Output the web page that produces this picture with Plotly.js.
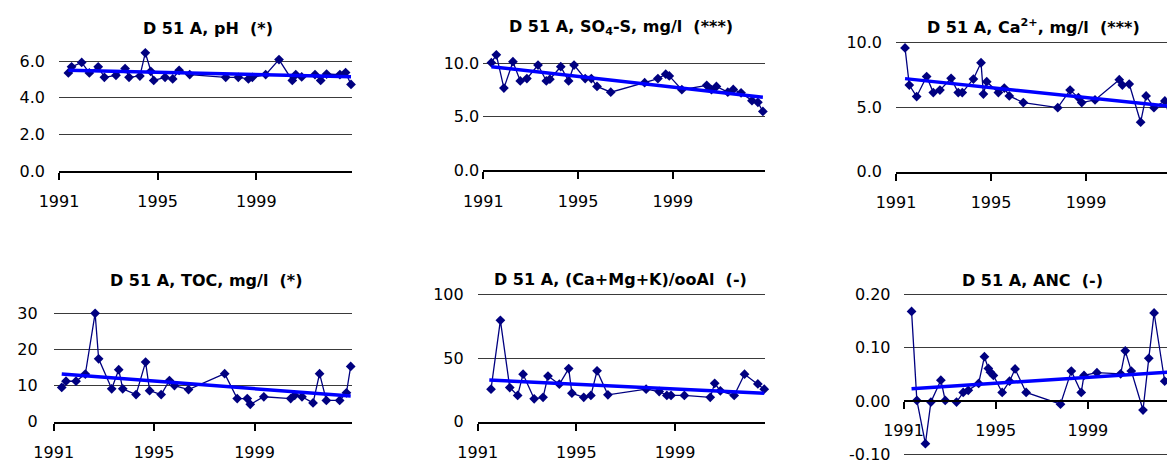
<!DOCTYPE html>
<html>
<head>
<meta charset="utf-8">
<script src="https://cdn.plot.ly/plotly-3.0.1.min.js"></script>
<style>html,body{margin:0;padding:0;background:#fff;}#chart{width:1167px;height:461px;}</style>
</head>
<body>
<div id="chart"></div>
<script>
// ---------------- DATA ----------------
const yearTicks = [1991, 1995, 1999];
const yearTickText = ["1991", "1995", "1999"];

const phYear = [1991.38,1991.51,1991.92,1992.23,1992.59,1992.84,1993.31,1993.68,1993.84,1994.28,1994.50,1994.72,1994.84,1995.30,1995.61,1995.87,1996.30,1997.76,1998.27,1998.68,1998.84,1999.38,1999.92,2000.46,2000.60,2000.84,2001.38,2001.61,2001.85,2002.39,2002.62,2002.84];
const phValue = [5.36,5.69,5.93,5.36,5.69,5.12,5.23,5.60,5.12,5.19,6.46,5.45,4.95,5.12,5.03,5.50,5.27,5.12,5.12,5.03,5.12,5.27,6.09,4.95,5.27,5.14,5.27,4.95,5.30,5.27,5.38,4.73];
const phTrendYear = [1991.38, 2002.84];
const phTrendValue = [5.50, 5.15];
const phTicks = [0, 2, 4, 6];
const phTickText = ["0.0", "2.0", "4.0", "6.0"];

const so4Year = [1991.34,1991.55,1991.87,1992.25,1992.56,1992.84,1993.31,1993.66,1993.81,1994.27,1994.60,1994.83,1995.30,1995.56,1995.80,1996.38,1997.81,1998.37,1998.70,1998.85,1999.38,2000.43,2000.63,2000.84,2001.32,2001.55,2001.88,2002.34,2002.59,2002.80];
const so4Value = [10.06,10.79,7.68,10.15,8.35,8.57,9.84,8.35,8.51,9.68,8.35,9.84,8.57,8.57,7.84,7.30,8.19,8.57,8.98,8.82,7.53,7.94,7.53,7.84,7.30,7.56,7.24,6.51,6.35,5.50];
const so4TrendYear = [1991.34, 2002.80];
const so4TrendValue = [9.68, 6.83];
const so4Ticks = [0, 5, 10];
const so4TickText = ["0.0", "5.0", "10.0"];

const caYear = [1991.38,1991.56,1991.87,1992.29,1992.57,1992.85,1993.32,1993.62,1993.79,1994.26,1994.58,1994.68,1994.82,1995.31,1995.56,1995.77,1996.36,1997.81,1998.33,1998.68,1998.82,1999.38,2000.40,2000.53,2000.82,2001.30,2001.53,2001.86,2002.32,2002.55,2002.84];
const caValue = [9.58,6.70,5.81,7.36,6.12,6.31,7.22,6.12,6.12,7.17,8.43,6.00,6.96,6.12,6.47,5.86,5.34,4.95,6.31,5.73,5.34,5.55,7.12,6.70,6.78,3.82,5.86,4.95,5.47,4.10,5.00];
const caTrendYear = [1991.38, 2002.84];
const caTrendValue = [7.20, 5.00];
const caTicks = [0, 5, 10];
const caTickText = ["0.0", "5.0", "10.0"];

const tocYear = [1991.32,1991.49,1991.89,1992.26,1992.65,1992.79,1993.31,1993.59,1993.75,1994.28,1994.66,1994.82,1995.28,1995.61,1995.81,1996.37,1997.81,1998.31,1998.71,1998.83,1999.37,2000.44,2000.60,2000.89,2001.33,2001.59,2001.86,2002.39,2002.66,2002.83];
const tocValue = [9.5,11.2,11.2,13.2,30.0,17.4,9.1,14.4,9.1,7.5,16.5,8.6,7.5,11.4,10.0,8.9,13.3,6.4,6.4,4.8,6.9,6.4,7.3,6.9,5.2,13.3,5.9,5.9,8.0,15.3];
const tocTrendYear = [1991.32, 2002.83];
const tocTrendValue = [13.2, 7.1];
const tocTicks = [0, 10, 20, 30];
const tocTickText = ["0", "10", "20", "30"];

const ratioYear = [1991.54,1991.92,1992.30,1992.62,1992.84,1993.29,1993.65,1993.85,1994.31,1994.69,1994.82,1995.30,1995.59,1995.84,1996.28,1997.83,1998.36,1998.67,1998.84,1999.38,2000.43,2000.61,2000.84,2001.40,2001.82,2002.36,2002.62];
const ratioValue = [25.5,79.6,26.8,20.6,37.3,18.0,19.1,35.8,29.4,41.7,22.4,19.1,20.6,39.9,21.1,25.5,23.7,20.6,20.6,20.6,19.1,30.1,24.2,20.6,37.3,29.6,25.5];
const ratioTrendYear = [1991.47, 2002.62];
const ratioTrendValue = [32.7, 22.4];
const ratioTicks = [0, 50, 100];
const ratioTickText = ["0", "50", "100"];

const ancYear = [1991.35,1991.58,1991.95,1992.19,1992.62,1992.81,1993.30,1993.59,1993.81,1994.26,1994.51,1994.68,1994.77,1994.90,1995.28,1995.60,1995.84,1996.32,1997.81,1998.28,1998.71,1998.83,1999.39,2000.42,2000.62,2000.88,2001.39,2001.64,2001.87,2002.33,2002.60,2002.84];
const ancValue = [0.168,0.001,-0.080,-0.002,0.039,0.001,-0.002,0.016,0.020,0.033,0.083,0.061,0.054,0.048,0.016,0.037,0.060,0.016,-0.006,0.056,0.016,0.048,0.053,0.051,0.094,0.056,-0.017,0.080,0.165,0.037,0.050,0.030];
const ancTrendYear = [1991.35, 2002.84];
const ancTrendValue = [0.023, 0.055];
const ancTicks = [-0.1, 0, 0.1, 0.2];
const ancTickText = ["-0.10", "0.00", "0.10", "0.20"];

const titles = [
  "D 51 A, pH\u00A0 (*)",
  "D 51 A, SO<sub>4</sub>-S, mg/l\u00A0 (***)",
  "D 51 A, Ca<sup>2+</sup>, mg/l\u00A0 (***)",
  "D 51 A, TOC, mg/l\u00A0 (*)",
  "D 51 A, (Ca+Mg+K)/ooAl\u00A0 (-)",
  "D 51 A, ANC\u00A0 (-)"
];

// ---------------- LAYOUT GEOMETRY ----------------
const W = 1167, H = 461;
const geo = [
  {xl:59,    xr:352,  y0:171,   ppu:18.3,  yr:[0,7],           xend:2002.88, tx:207.5, ty:28.5, standoff:13},
  {xl:483.3, xr:765,  y0:170.3, ppu:10.7,  yr:[0,11.5],        xend:2002.89, tx:620.8, ty:27.5, standoff:3},
  {xl:896,   xr:1167, y0:171.5, ppu:12.9,  yr:[0,10.2],        xend:2002.41, tx:1033.3,ty:27,   standoff:13},
  {xl:53.7,  xr:351.7,y0:421.7, ppu:3.613, yr:[0,31],          xend:2002.87, tx:206.3, ty:280.5,standoff:15},
  {xl:477.7, xr:765,  y0:421.7, ppu:1.274, yr:[0,102],         xend:2002.65, tx:620,   ty:279.5,standoff:13},
  {xl:903.5, xr:1167, y0:456.97,ppu:533.3, yr:[-0.105,0.205],  xend:2002.43, tx:1032.5,ty:280,  standoff:12}
];

const series = [
  [phYear, phValue, phTrendYear, phTrendValue, phTicks, phTickText],
  [so4Year, so4Value, so4TrendYear, so4TrendValue, so4Ticks, so4TickText],
  [caYear, caValue, caTrendYear, caTrendValue, caTicks, caTickText],
  [tocYear, tocValue, tocTrendYear, tocTrendValue, tocTicks, tocTickText],
  [ratioYear, ratioValue, ratioTrendYear, ratioTrendValue, ratioTicks, ratioTickText],
  [ancYear, ancValue, ancTrendYear, ancTrendValue, ancTicks, ancTickText]
];

const tickFont = {family: "DejaVu Sans, Arial, sans-serif", size: 16, color: "#000"};
const titleFont = {family: "DejaVu Sans, Arial, sans-serif", size: 16, color: "#000"};

const data = [];
const layout = {
  width: W, height: H, autosize: false,
  margin: {l:0, r:0, t:0, b:0, pad:0},
  paper_bgcolor: "#fff", plot_bgcolor: "#fff",
  showlegend: false,
  annotations: []
};

series.forEach((s, i) => {
  const g = geo[i];
  const n = i === 0 ? "" : String(i + 1);
  const xa = "x" + n, ya = "y" + n;
  const ybPx = g.y0;
  const ytPx = g.y0 - (g.yr[1] - g.yr[0]) * g.ppu;
  data.push({
    type: "scatter", mode: "lines+markers", x: s[0], y: s[1], xaxis: xa, yaxis: ya,
    line: {color: "#000080", width: 1.3},
    marker: {symbol: "diamond", size: 7.5, color: "#000080"},
    cliponaxis: false, hoverinfo: "x+y"
  });
  data.push({
    type: "scatter", mode: "lines", x: s[2], y: s[3], xaxis: xa, yaxis: ya,
    line: {color: "#0000FF", width: 3.5}, hoverinfo: "skip"
  });
  const xaxis = {
    domain: [g.xl / W, g.xr / W],
    range: [1991, g.xend],
    tickmode: "array", tickvals: yearTicks, ticktext: yearTickText,
    showgrid: false, zeroline: false,
    showline: true, linecolor: "#000", linewidth: 2,
    ticks: "outside", ticklen: 7, tickwidth: 2, tickcolor: "#000",
    tickfont: tickFont, ticklabelstandoff: 8, ticklabeloverflow: "allow",
    fixedrange: true
  };
  if (i === 5) {
    const zeroPx = g.y0 - (0 - g.yr[0]) * g.ppu;
    xaxis.anchor = "free";
    xaxis.position = 1 - zeroPx / H;
  } else {
    xaxis.anchor = ya;
  }
  layout["xaxis" + n] = xaxis;
  layout["yaxis" + n] = {
    domain: [1 - ybPx / H, 1 - ytPx / H],
    range: g.yr,
    anchor: xa,
    tickmode: "array", tickvals: s[4], ticktext: s[5],
    showgrid: true, gridcolor: "#3a3a3a", gridwidth: 1,
    zeroline: false, showline: false, ticks: "",
    tickfont: tickFont, ticklabelstandoff: g.standoff, ticklabeloverflow: "allow",
    fixedrange: true
  };
  layout.annotations.push({
    xref: "paper", yref: "paper", x: g.tx / W, y: 1 - g.ty / H,
    xanchor: "center", yanchor: "middle", showarrow: false,
    text: "<b>" + titles[i] + "</b>", font: titleFont
  });
});

Plotly.newPlot("chart", data, layout, {staticPlot: true, displayModeBar: false});
</script>
</body>
</html>
